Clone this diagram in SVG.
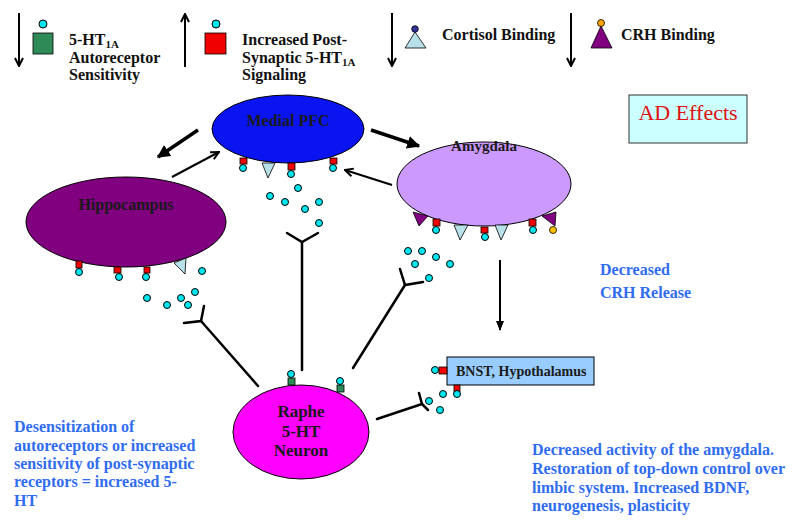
<svg xmlns="http://www.w3.org/2000/svg" width="800" height="530" viewBox="0 0 800 530">
<defs>
<style>
.t{font-family:"Liberation Serif","Times New Roman",serif;font-weight:bold;font-size:16px;fill:#111}
.n{font-family:"Liberation Serif","Times New Roman",serif;font-weight:bold;fill:#1a1a1a}
.b{font-family:"Liberation Serif","Times New Roman",serif;font-weight:bold;font-size:16px;fill:#2f6cf0}
.c{fill:#00e5ee;stroke:#000;stroke-width:1}
.r{fill:#f00000;stroke:#000;stroke-width:0.8}
.g{fill:#2e8b57;stroke:#000;stroke-width:0.8}
.lb{fill:#b8e0e8;stroke:#000;stroke-width:0.8}
.pu{fill:#800080;stroke:#000;stroke-width:0.8}
.ln{stroke:#000;stroke-width:2.5;fill:none;stroke-linecap:round}
.th{stroke:#000;stroke-width:2;fill:none}
.tk{stroke:#000;stroke-width:3.5;fill:none}
</style>
<marker id="open" viewBox="0 0 10 10" refX="9" refY="5" markerWidth="10" markerHeight="10" markerUnits="userSpaceOnUse" orient="auto">
<path d="M1,1 L9,5 L1,9" fill="none" stroke="#000" stroke-width="2"/>
</marker>
<marker id="solid" viewBox="0 0 10 10" refX="9" refY="5" markerWidth="13" markerHeight="13" markerUnits="userSpaceOnUse" orient="auto">
<path d="M0,0 L10,5 L0,10 z" fill="#000"/>
</marker>
<marker id="solids" viewBox="0 0 10 10" refX="9" refY="5" markerWidth="10" markerHeight="10" markerUnits="userSpaceOnUse" orient="auto">
<path d="M0,1 L10,5 L0,9 z" fill="#000"/>
</marker>
</defs>
<rect width="800" height="530" fill="#fff"/>

<g id="legend">
<line class="th" x1="19" y1="13" x2="19" y2="66" marker-end="url(#open)"/>
<circle class="c" cx="43" cy="24" r="4"/>
<rect class="g" x="33" y="33" width="20" height="21"/>
<text class="t" x="69" y="45">5-HT<tspan font-size="11" dy="3">1A</tspan></text>
<text class="t" x="69" y="63">Autoreceptor</text>
<text class="t" x="69" y="80">Sensitivity</text>

<line class="th" x1="185" y1="67" x2="185" y2="14" marker-end="url(#open)"/>
<circle class="c" cx="216" cy="24" r="4"/>
<rect class="r" x="205" y="33" width="21" height="21"/>
<text class="t" x="242" y="45">Increased Post-</text>
<text class="t" x="242" y="63">Synaptic 5-HT<tspan font-size="11" dy="3">1A</tspan></text>
<text class="t" x="242" y="80">Signaling</text>

<line class="th" x1="392" y1="13" x2="392" y2="66" marker-end="url(#open)"/>
<polygon class="lb" points="415,32 405,48 426,48"/>
<circle cx="415" cy="29" r="3.3" fill="#333399" stroke="#000" stroke-width="0.8"/>
<text class="t" x="442" y="40">Cortisol Binding</text>

<line class="th" x1="571" y1="13" x2="571" y2="66" marker-end="url(#open)"/>
<polygon class="pu" points="601,26 591,48 612,48"/>
<circle cx="601" cy="23" r="3.5" fill="#ffa500" stroke="#000" stroke-width="0.8"/>
<text class="t" x="621" y="40">CRH Binding</text>
</g>

<g id="ad-effects">
<rect x="629" y="95" width="118" height="48" fill="#ccffff" stroke="#333" stroke-width="1"/>
<text x="688" y="120" text-anchor="middle" font-family="Liberation Serif, Times New Roman, serif" font-size="22" fill="#e01010">AD Effects</text>
</g>

<g id="connectors">
<line class="tk" x1="198" y1="130" x2="158" y2="157" marker-end="url(#solid)"/>
<line class="th" x1="172" y1="177" x2="219" y2="152" marker-end="url(#open)"/>
<line class="tk" x1="371" y1="130" x2="419" y2="146" marker-end="url(#solid)"/>
<line class="th" x1="392" y1="185" x2="345" y2="170" marker-end="url(#open)"/>
<line class="th" x1="500" y1="260" x2="500" y2="330" marker-end="url(#solids)"/>
<polyline class="ln" points="258,386 201,321"/>
<polyline class="ln" points="204,306 201,321 184,323"/>
<polyline class="ln" points="302,370 302,242"/>
<polyline class="ln" points="287,233 302,242 318,233"/>
<polyline class="ln" points="353,368 405,285"/>
<polyline class="ln" points="400,269 405,285 423,282"/>
<polyline class="ln" points="377,419 422,404"/>
<polyline class="ln" points="419,393 422,404 428,410"/>
</g>

<g id="medial-pfc">
<ellipse cx="288" cy="129" rx="76" ry="34" fill="#0a14f0" stroke="#000" stroke-width="1"/>
<text class="n" x="288" y="126" font-size="16" text-anchor="middle">Medial PFC</text>
<rect class="r" x="240" y="158" width="7" height="6"/>
<circle class="c" cx="243" cy="168" r="3.5"/>
<polygon class="lb" points="262,163 275,163 268,178"/>
<rect class="r" x="288" y="163" width="7" height="7"/>
<circle class="c" cx="291" cy="174" r="3.5"/>
<rect class="r" x="330" y="158" width="7" height="6"/>
<circle class="c" cx="333" cy="168" r="3.5"/>
<circle class="c" cx="298" cy="188" r="3.5"/>
<circle class="c" cx="270" cy="196" r="3.5"/>
<circle class="c" cx="285" cy="202" r="3.5"/>
<circle class="c" cx="305" cy="209" r="3.5"/>
<circle class="c" cx="319" cy="202" r="3.5"/>
<circle class="c" cx="319" cy="223" r="3.5"/>
</g>

<g id="hippocampus">
<ellipse cx="126" cy="222" rx="100" ry="45" fill="#800080" stroke="#000" stroke-width="1"/>
<text class="n" x="126" y="210" font-size="16" text-anchor="middle">Hippocampus</text>
<rect class="r" x="76" y="261" width="6" height="7"/>
<circle class="c" cx="79" cy="272" r="3.5"/>
<rect class="r" x="114" y="267" width="7" height="6"/>
<circle class="c" cx="119" cy="277" r="3.5"/>
<rect class="r" x="144" y="267" width="6" height="6"/>
<circle class="c" cx="146" cy="277" r="3.5"/>
<polygon class="lb" points="174,263 186,258 185,274"/>
<circle class="c" cx="202" cy="271" r="3.5"/>
<circle class="c" cx="195" cy="292" r="3.5"/>
<circle class="c" cx="147" cy="298" r="3.5"/>
<circle class="c" cx="167" cy="305" r="3.5"/>
<circle class="c" cx="181" cy="298" r="3.5"/>
<circle class="c" cx="188" cy="305" r="3.5"/>
</g>

<g id="amygdala">
<ellipse cx="484" cy="184" rx="87" ry="42" fill="#cc99ff" stroke="#000" stroke-width="1"/>
<text class="n" x="484" y="151" font-size="15" text-anchor="middle">Amygdala</text>
<polygon class="pu" points="413,212 428,216 419,226"/>
<rect class="r" x="433" y="219" width="7" height="7"/>
<circle class="c" cx="436" cy="230" r="3.5"/>
<polygon class="lb" points="454,225 468,225 460,240"/>
<rect class="r" x="481" y="227" width="7" height="6"/>
<circle class="c" cx="485" cy="237" r="3.5"/>
<polygon class="lb" points="495,225 508,225 501,240"/>
<rect class="r" x="529" y="219" width="7" height="7"/>
<circle class="c" cx="533" cy="230" r="3.5"/>
<polygon class="pu" points="542,216 556,212 555,226"/>
<circle cx="553" cy="230" r="3.5" fill="#ffc000" stroke="#000" stroke-width="0.8"/>
<circle class="c" cx="408" cy="251" r="3.5"/>
<circle class="c" cx="422" cy="251" r="3.5"/>
<circle class="c" cx="436" cy="257" r="3.5"/>
<circle class="c" cx="415" cy="264" r="3.5"/>
<circle class="c" cx="450" cy="264" r="3.5"/>
<circle class="c" cx="429" cy="278" r="3.5"/>
</g>

<g id="bnst">
<rect x="447" y="357" width="147" height="28" fill="#99ccff" stroke="#000" stroke-width="1"/>
<text class="n" x="456" y="376" font-size="14">BNST, Hypothalamus</text>
<rect class="r" x="439" y="367" width="8" height="7"/>
<circle class="c" cx="435" cy="370" r="3.5"/>
<rect class="r" x="454" y="385" width="6" height="7"/>
<circle class="c" cx="457" cy="394" r="3.5"/>
<circle class="c" cx="443" cy="394" r="3.5"/>
<circle class="c" cx="429" cy="401" r="3.5"/>
<circle class="c" cx="440" cy="410" r="3.5"/>
</g>

<g id="raphe">
<ellipse cx="301" cy="432" rx="68" ry="47" fill="#ff00ff" stroke="#000" stroke-width="1"/>
<text class="n" x="301" y="417" font-size="17" text-anchor="middle">Raphe</text>
<text class="n" x="301" y="437" font-size="17" text-anchor="middle">5-HT</text>
<text class="n" x="301" y="456" font-size="17" text-anchor="middle">Neuron</text>
<rect class="g" x="288" y="378" width="7" height="7"/>
<circle class="c" cx="291" cy="374" r="3.5"/>
<rect class="g" x="337" y="385" width="7" height="7"/>
<circle class="c" cx="340" cy="381" r="3.5"/>
</g>

<g id="notes">
<text class="b" x="600" y="275">Decreased</text>
<text class="b" x="600" y="298">CRH Release</text>
<text class="b" x="14" y="432">Desensitization of</text>
<text class="b" x="14" y="451">autoreceptors or increased</text>
<text class="b" x="14" y="469">sensitivity of post-synaptic</text>
<text class="b" x="14" y="487">receptors = increased 5-</text>
<text class="b" x="14" y="506">HT</text>
<text class="b" x="532" y="455">Decreased activity of the amygdala.</text>
<text class="b" x="532" y="474">Restoration of top-down control over</text>
<text class="b" x="532" y="493">limbic system. Increased BDNF,</text>
<text class="b" x="532" y="511">neurogenesis, plasticity</text>
</g>
</svg>
